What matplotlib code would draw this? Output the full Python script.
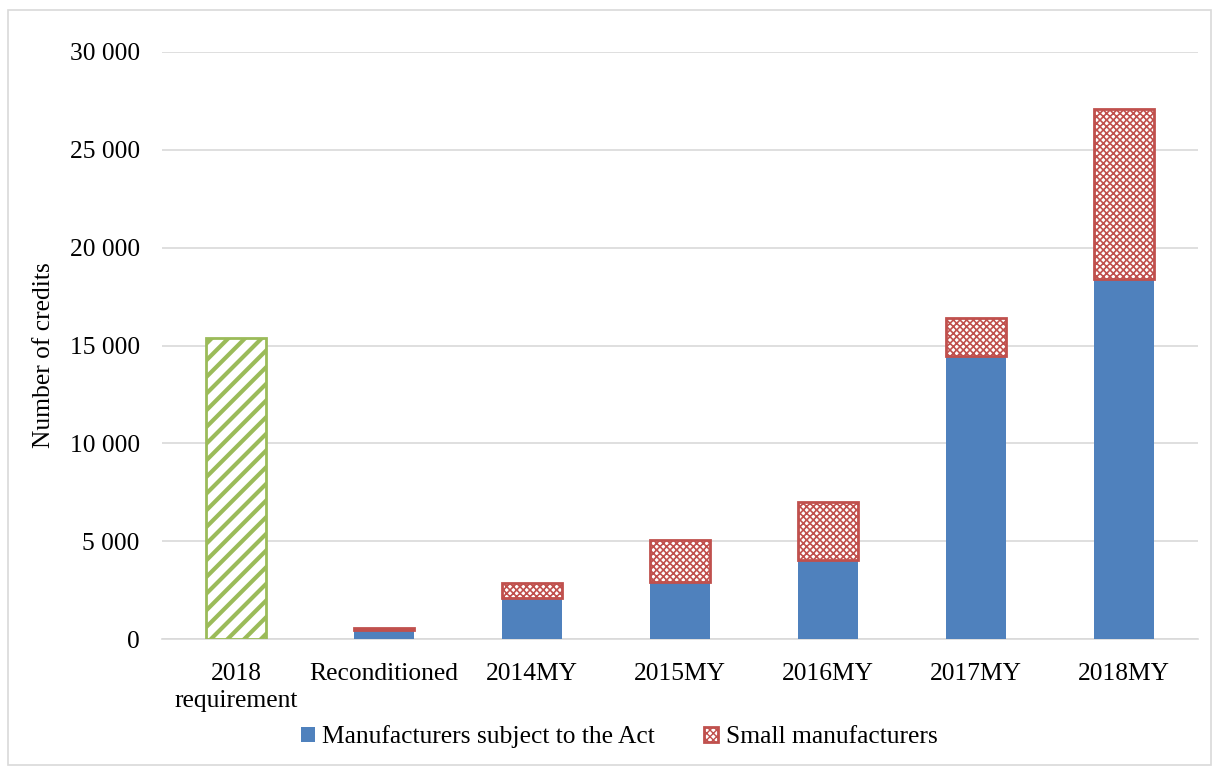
import numpy as np
import matplotlib.pyplot as plt
import matplotlib as mpl
from matplotlib.patches import Rectangle

plt.rcParams['font.family'] = ['Liberation Serif', 'DejaVu Serif']
plt.rcParams['font.size'] = 18.4

categories = ['2018\nrequirement', 'Reconditioned', '2014MY', '2015MY',
              '2016MY', '2017MY', '2018MY']
requirement = [15380, 0, 0, 0, 0, 0, 0]
subject_to_act = [0, 450, 2080, 2910, 4040, 14460, 18400]
small_mfr = [0, 130, 780, 2150, 2960, 1940, 8680]
yticks = [0, 5000, 10000, 15000, 20000, 25000, 30000]
ytick_labels = ['0', '5 000', '10 000', '15 000', '20 000', '25 000', '30 000']

blue = '#4F81BD'
red = '#C0504D'
green = '#9BBB59'

fig = plt.figure(figsize=(12.14, 7.67), dpi=100)
ax = fig.add_axes([162 / 1214, 1 - 639 / 767, 1036 / 1214, 587 / 767])

x = np.arange(len(categories))
w = 0.405

with mpl.rc_context({'hatch.linewidth': 3.0, 'hatch.color': green}):
    ax.bar(x[:1], requirement[:1], w, color='white', edgecolor=green,
           hatch='//', linewidth=2, zorder=3)
ax.bar(x[1:], subject_to_act[1:], w, color=blue, edgecolor='none', zorder=3,
       label='Manufacturers subject to the Act')
with mpl.rc_context({'hatch.linewidth': 1.2, 'hatch.color': red}):
    ax.bar(x[1:], small_mfr[1:], w, bottom=subject_to_act[1:], color='white',
           edgecolor=red, hatch='xxxxx', linewidth=2, zorder=3,
           label='Small manufacturers')

ax.set_xlim(-0.5, len(categories) - 0.5)
ax.set_ylim(0, 30000)
ax.set_yticks(yticks)
ax.set_yticklabels(ytick_labels)
ax.set_xticks(x)
ax.set_xticklabels(categories, linespacing=1.3)
ax.tick_params(axis='x', length=0, pad=17)
ax.tick_params(axis='y', length=0, pad=16)
ax.yaxis.grid(True, color='#D9D9D9', linewidth=1.2, zorder=0)
ax.set_axisbelow(True)
for s in ['top', 'right', 'left']:
    ax.spines[s].set_visible(False)
ax.spines['bottom'].set_color('#D9D9D9')
ax.spines['bottom'].set_linewidth(1.2)

fig.text(44 / 1214, 1 - 355 / 767, 'Number of credits', rotation=90,
         ha='center', va='center')

fig.legend(loc='center', bbox_to_anchor=(619 / 1214, 1 - 737 / 767), ncol=2,
           frameon=False, handlelength=0.55, handleheight=0.55,
           handletextpad=0.3, columnspacing=1.9)

fig.add_artist(Rectangle((8 / 1214, 2 / 767), 1203 / 1214, 755 / 767,
                         transform=fig.transFigure, fill=False,
                         edgecolor='#D9D9D9', linewidth=1.2))

fig.savefig('out.png', dpi=100)
